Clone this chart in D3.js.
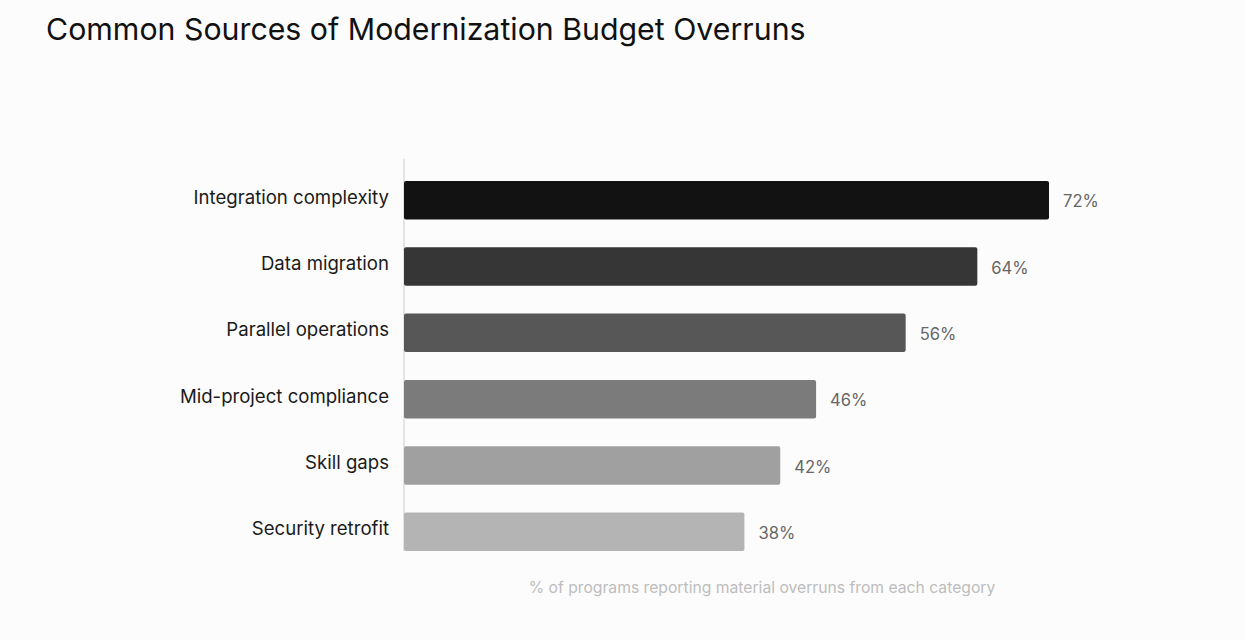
<!DOCTYPE html>
<html>
<head>
<meta charset="utf-8">
<script src="https://cdn.jsdelivr.net/npm/d3@7.9.0/dist/d3.min.js"></script>
<style>
  body { margin: 0; background: #fcfcfc; }
  svg { display: block; font-family: Inter, "Noto Sans", sans-serif; }
</style>
</head>
<body>
<svg width="1246" height="640"></svg>
<script>
const categories = [
  "Integration complexity",
  "Data migration",
  "Parallel operations",
  "Mid-project compliance",
  "Skill gaps",
  "Security retrofit",
];
const values = [72, 64, 56, 46, 42, 38];
const barColors = ["#121212", "#363636", "#575757", "#7b7b7b", "#a0a0a0", "#b4b4b4"];

const svg = d3.select("svg");

// title
svg.append("text")
  .attr("x", 46).attr("y", 40)
  .attr("font-size", 30.3)
  .attr("fill", "#111")
  .text("Common Sources of Modernization Budget Overruns");

const x = d3.scaleLinear()
  .domain([0, d3.max(values)])
  .range([404, 1049]);

const y = d3.scaleBand()
  .domain(categories)
  .range([167, 565])
  .paddingInner(0.42)
  .paddingOuter(0.21);

// baseline
svg.append("line")
  .attr("x1", x(0)).attr("x2", x(0))
  .attr("y1", 159).attr("y2", y(categories[categories.length - 1]) + y.bandwidth())
  .attr("stroke", "#dddddd")
  .attr("stroke-width", 1.5);

const rows = svg.selectAll("g.row")
  .data(categories)
  .join("g")
  .attr("class", "row");

rows.append("rect")
  .attr("x", x(0))
  .attr("y", (d) => y(d))
  .attr("width", (d, i) => x(values[i]) - x(0))
  .attr("height", y.bandwidth())
  .attr("rx", 2)
  .attr("fill", (d, i) => barColors[i]);

rows.append("text")
  .attr("x", 389)
  .attr("y", (d) => y(d) + y.bandwidth() / 2 - 3)
  .attr("dy", "0.35em")
  .attr("text-anchor", "end")
  .attr("font-size", 18.6)
  .attr("fill", "#1a1a1a")
  .text((d) => d);

rows.append("text")
  .attr("x", (d, i) => x(values[i]) + 14)
  .attr("y", (d) => y(d) + y.bandwidth() / 2 + 1.5)
  .attr("dy", "0.35em")
  .attr("font-size", 16.6)
  .attr("fill", "#666")
  .text((d, i) => `${values[i]}%`);

// footnote
svg.append("text")
  .attr("x", 762).attr("y", 593)
  .attr("text-anchor", "middle")
  .attr("font-size", 15.7)
  .attr("fill", "#bdbdbd")
  .text("% of programs reporting material overruns from each category");
</script>
</body>
</html>
